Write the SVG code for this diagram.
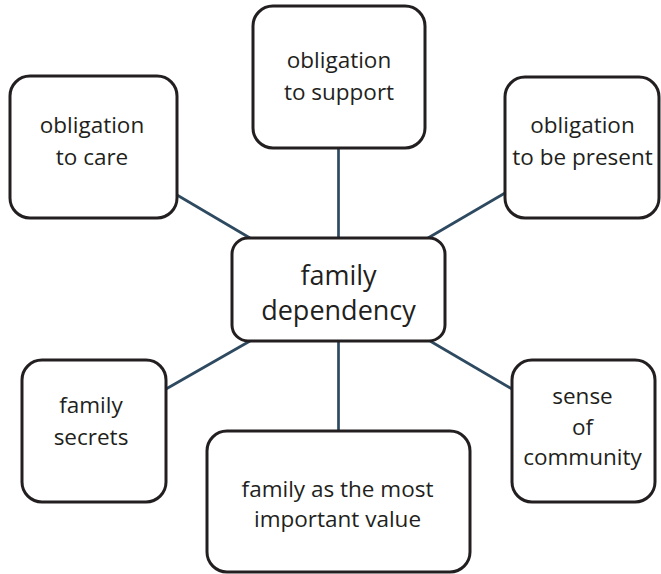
<svg xmlns="http://www.w3.org/2000/svg" width="661" height="574" viewBox="0 0 661 574">
  <style>
    .box { fill: #ffffff; stroke: #231f20; stroke-width: 3; }
    .link { stroke: #2e4a60; stroke-width: 2.7; fill: none; }
    .lbl { font-family: "Open Sans", "Liberation Sans", sans-serif; font-size: 22.5px; fill: #231f20; text-anchor: middle; }
    .hub { font-size: 27px; }
  </style>
  <rect width="661" height="574" fill="#ffffff"/>

  <!-- spokes from the hub to each surrounding box -->
  <g id="connectors">
    <line class="link" x1="338.5" y1="148" x2="338.5" y2="238"/>
    <line class="link" x1="177" y1="195" x2="250" y2="238"/>
    <line class="link" x1="505" y1="193" x2="428" y2="238"/>
    <line class="link" x1="166" y1="389" x2="250" y2="341"/>
    <line class="link" x1="512" y1="389" x2="430" y2="341"/>
    <line class="link" x1="338.5" y1="341" x2="338.5" y2="431"/>
  </g>

  <g id="support">
    <rect class="box" x="253" y="6" width="172" height="142" rx="20"/>
    <text class="lbl" x="339" y="68">obligation</text>
    <text class="lbl" x="339" y="100">to support</text>
  </g>

  <g id="care">
    <rect class="box" x="10" y="76" width="167" height="142" rx="20"/>
    <text class="lbl" x="92" y="133">obligation</text>
    <text class="lbl" x="92" y="165">to care</text>
  </g>

  <g id="present">
    <rect class="box" x="505" y="77" width="154" height="141" rx="20"/>
    <text class="lbl" x="582.5" y="133">obligation</text>
    <text class="lbl" x="582.5" y="165">to be present</text>
  </g>

  <g id="hub">
    <rect class="box" x="232" y="238" width="213" height="103" rx="16"/>
    <text class="lbl hub" x="338.5" y="285">family</text>
    <text class="lbl hub" x="338.5" y="320">dependency</text>
  </g>

  <g id="secrets">
    <rect class="box" x="22" y="360" width="144" height="142" rx="20"/>
    <text class="lbl" x="91" y="413">family</text>
    <text class="lbl" x="91" y="445">secrets</text>
  </g>

  <g id="value">
    <rect class="box" x="207" y="431" width="263" height="141" rx="20"/>
    <text class="lbl" x="337.5" y="497">family as the most</text>
    <text class="lbl" x="337.5" y="527">important value</text>
  </g>

  <g id="community">
    <rect class="box" x="512" y="360" width="143" height="142" rx="20"/>
    <text class="lbl" x="582.5" y="404">sense</text>
    <text class="lbl" x="582.5" y="435">of</text>
    <text class="lbl" x="582.5" y="465">community</text>
  </g>
</svg>
